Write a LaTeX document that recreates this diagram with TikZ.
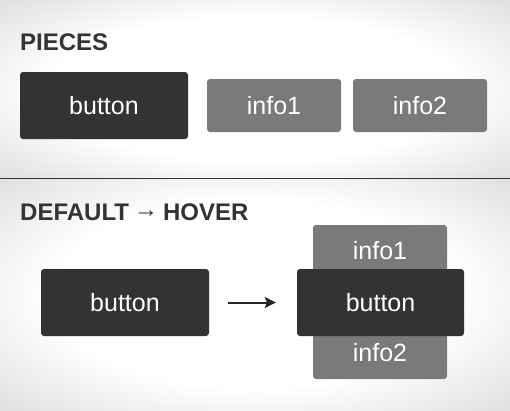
\documentclass[tikz,border=0pt]{standalone}
\usepackage{fontspec}
\setmainfont{Liberation Sans}
\usetikzlibrary{arrows.meta}

\pgfdeclareradialshading{bgglow}{\pgfpoint{0bp}{0bp}}{color(0bp)=(white); color(20bp)=(white); color(50bp)=(black!24); color(70bp)=(black!34)}

\begin{document}
\begin{tikzpicture}[x=1pt, y=-1pt, every node/.style={font=\fontsize{25}{28}\selectfont, text=white, inner sep=0pt}, >={Stealth[length=11pt, width=11pt, inset=2pt]}, hdr/.style={font=\fontsize{24}{28}\selectfont\bfseries, text=black!80, anchor=base west}, btn/.style={fill=black!80, rounded corners=3pt, minimum width=168pt, minimum height=67pt}, info/.style={fill=black!52, rounded corners=3pt, minimum width=134pt, minimum height=53pt}]
	\useasboundingbox (0,0) rectangle (510,410);
	\shade[shading=bgglow] (0,0) rectangle (510,178);
	\shade[shading=bgglow] (0,178) rectangle (510,410);
	\draw[black!80, line width=1pt] (0,178) -- (510,178);
	% pieces
	\node[hdr] (pieces) at (20,50) {PIECES};
	\node[btn] (btnA) at (104,105.5) {button};
	\node[info] (infoA) at (274,105.5) {info1};
	\node[info] (infoB) at (420,105.5) {info2};
	% default -> hover
	\node[hdr] (states) at (20,220) {DEFAULT\kern5pt{\mdseries\raisebox{3pt}{→}}\kern5pt HOVER};
	\node[btn] (btnDefault) at (125,302.5) {button};
	\node[info, minimum height=52pt] (infoTop) at (380,251) {info1};
	\node[info] (infoBot) at (380,352.5) {info2};
	\node[btn, minimum width=167pt] (btnHover) at (380.5,302.5) {button};
	\draw[->, black!85, line width=2pt, shorten <=19pt, shorten >=21pt] (btnDefault) -- (btnHover);
\end{tikzpicture}
\end{document}
